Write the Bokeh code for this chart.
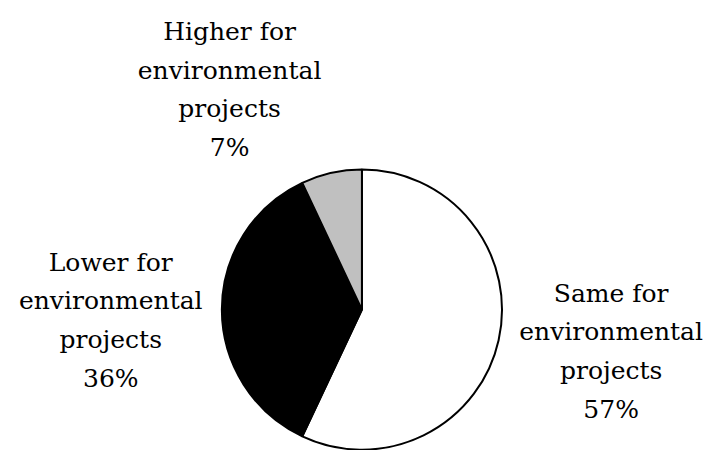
import math
from bokeh.plotting import figure
from bokeh.models import ColumnDataSource, Range1d
from bokeh.core.properties import value
from bokeh.embed import file_html
from bokeh.resources import INLINE

categories = ["Same for environmental projects", "Lower for environmental projects", "Higher for environmental projects"]
percent = [57, 36, 7]
colors = ["#FFFFFF", "#000000", "#C0C0C0"]
label_lines = [
    ["Same for", "environmental", "projects", "57%"],
    ["Lower for", "environmental", "projects", "36%"],
    ["Higher for", "environmental", "projects", "7%"],
]

W, H = 712, 450
S = 0.966      # layout scale from the 728x466 reference
OX = 4         # horizontal offset

p = figure(width=W, height=H, output_backend="svg", toolbar_location=None,
           x_range=Range1d(0, W), y_range=Range1d(0, H), min_border=0)
p.axis.visible = False
p.grid.visible = False
p.outline_line_color = None
p.background_fill_color = "white"


def px(x):
    return OX + S * x


def py(y):
    return H - S * y


total = sum(percent)
starts, ends = [], []
acc = 0.0
for v in percent:
    a0 = math.pi / 2 - 2 * math.pi * acc / total
    acc += v
    a1 = math.pi / 2 - 2 * math.pi * acc / total
    starts.append(a0)
    ends.append(a1)

src = ColumnDataSource(dict(cat=categories, pct=percent, start=starts, end=ends, color=colors))
p.wedge(x=px(370), y=py(320), radius=S * 145, start_angle="start", end_angle="end", direction="clock",
        fill_color="color", line_color="black", line_width=2, source=src)

# label anchors (center x, first baseline in px from top of reference)
anchors = [(628, 303), (110, 271), (233, 32)]
spacing = 40
xs, ys, ts = [], [], []
for (ax, ay), lines in zip(anchors, label_lines):
    for i, t in enumerate(lines):
        xs.append(px(ax))
        ys.append(py(ay + i * spacing))
        ts.append(t)
p.text(x=xs, y=ys, text=ts, text_font=value("DejaVu Serif"),
       text_font_size="25px", text_align="center", text_baseline="alphabetic", text_color="black")

open("out.html", "w").write(file_html(p, INLINE))
